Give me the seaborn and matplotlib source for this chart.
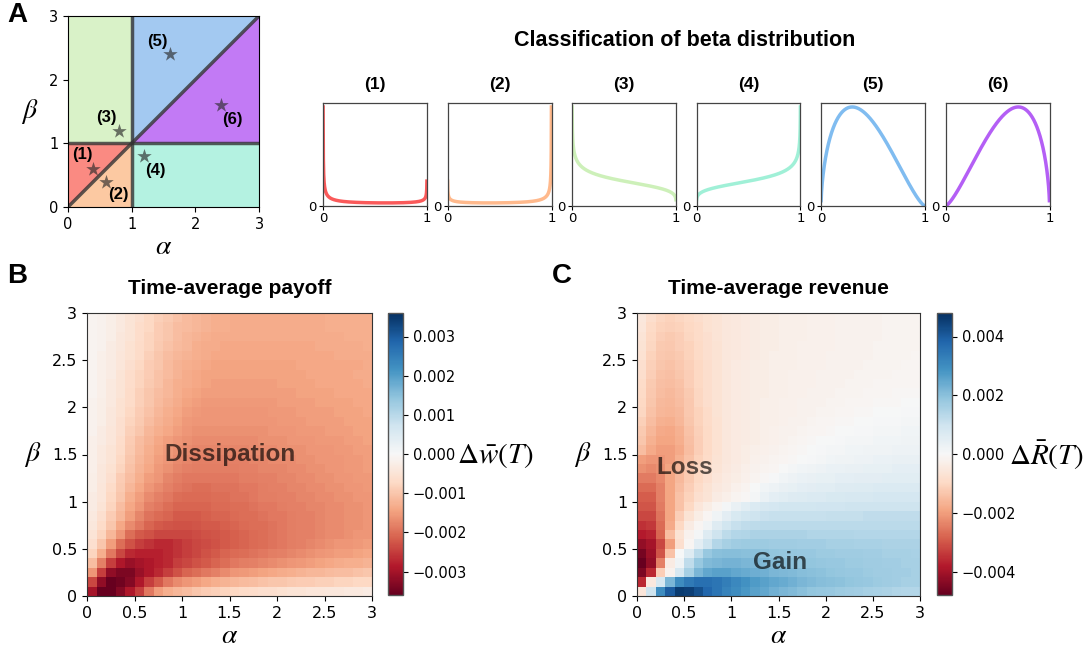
import numpy as np
import pandas as pd
import matplotlib
matplotlib.use('Agg')
import matplotlib.pyplot as plt
import seaborn as sns

plt.rcParams['font.family'] = ['DejaVu Sans']
plt.rcParams['mathtext.fontset'] = 'stix'
BOLD_FONT = ['Liberation Sans', 'DejaVu Sans']

# ---- panel A: example (alpha, beta) pairs ----
case_labels = ['(1)', '(2)', '(3)', '(4)', '(5)', '(6)']
case_alpha = [0.4, 0.6, 0.8, 1.2, 1.6, 2.4]
case_beta = [0.6, 0.4, 1.2, 0.8, 2.4, 1.6]
line_colors = ['#fa5a5a', '#ffb98c', '#cdf0b9', '#a0f0d7', '#80bcf0', '#b45ff5']
fill_colors = ['#fa8a82', '#fcc9a2', '#d9f2c8', '#b4f2e1', '#a3c9f1', '#c27af5']
label_offsets = [(-0.18, 0.22), (0.19, -0.21), (-0.19, 0.21), (0.18, -0.22), (-0.19, 0.2), (0.18, -0.23)]

# ---- panels B and C: grid centres ----
grid_alpha = [0.05, 0.15, 0.25, 0.35, 0.45, 0.55, 0.65, 0.75, 0.85, 0.95,
              1.05, 1.15, 1.25, 1.35, 1.45, 1.55, 1.65, 1.75, 1.85, 1.95,
              2.05, 2.15, 2.25, 2.35, 2.45, 2.55, 2.65, 2.75, 2.85, 2.95]
grid_beta = list(grid_alpha)
tick_labels = ['0', '0.5', '1', '1.5', '2', '2.5', '3']

# time-average payoff (x1e-4), rows from beta=0.05 (bottom) to beta=2.95 (top)
payoff_rows = [
    [-30, -36, -36, -33, -29, -25, -19, -15, -13, -12, -11, -10, -9, -8.5, -8, -7.5, -7, -6.5, -6, -6, -5.5, -5, -5, -4.5, -4.5, -4, -4, -3.5, -3.5, -3],
    [-24, -32, -36, -35, -33, -29, -25, -22, -19, -17, -16, -15, -14, -13, -12.5, -12, -11.5, -11, -10.5, -10, -10, -9.5, -9, -9, -8.5, -8.5, -8, -8, -7.5, -7.5],
    [-16, -25, -32, -34, -34, -31, -29, -27, -25, -23, -21, -20, -19, -18, -17, -16, -15.5, -15, -14.5, -14, -13.5, -13, -12.5, -12, -12, -11.5, -11, -11, -10.5, -10],
    [-11, -18, -25, -29, -31, -30, -29, -28, -27, -25, -24, -23, -22, -21, -20, -19, -18.5, -18, -17.5, -17, -16.5, -16, -15.5, -15, -14.5, -14, -13.5, -13, -13, -12.5],
    [-8, -13, -19, -24, -27, -28, -28, -28, -27, -26, -25, -24, -23, -22, -21, -20.5, -20, -19.5, -19, -18.5, -18, -17.5, -17, -16.5, -16, -15.5, -15, -15, -14.5, -14],
    [-6, -10, -15, -20, -23, -25, -26, -27, -27, -26, -25, -24, -23.5, -23, -22, -21.5, -21, -20.5, -20, -19.5, -19, -18.5, -18, -17.5, -17, -16.5, -16, -16, -15.5, -15],
    [-5, -8, -12, -16, -20, -22, -23, -24, -24, -24, -24, -23.5, -23, -22.5, -22, -21.5, -21, -20.5, -20, -19.5, -19, -18.5, -18, -18, -17.5, -17, -17, -16.5, -16, -16],
    [-4, -7, -10, -14, -17, -19, -21, -22, -22.5, -23, -23, -22.5, -22, -22, -21.5, -21, -20.5, -20, -20, -19.5, -19, -18.5, -18, -18, -17.5, -17, -17, -16.5, -16.5, -16],
    [-3.5, -6, -9, -12, -15, -17.5, -19.5, -20.5, -21, -22, -22, -22, -21.5, -21, -21, -20.5, -20, -20, -19.5, -19, -19, -18.5, -18, -18, -17.5, -17, -17, -16.5, -16.5, -16],
    [-3, -5, -8, -11, -14, -16, -18, -19, -20, -21, -21, -21, -21, -20.5, -20.5, -20, -20, -19.5, -19, -19, -18.5, -18, -18, -17.5, -17.5, -17, -17, -16.5, -16.5, -16],
    [-3, -4.5, -7.5, -10, -13, -15, -17, -18, -19, -20, -20.5, -20.5, -20.5, -20, -20, -19.5, -19.5, -19, -18.5, -18.5, -18, -18, -17.5, -17.5, -17, -17, -16.5, -16.5, -16, -16],
    [-2.5, -4.5, -7, -9.5, -12, -14, -16, -17, -18, -19, -19.5, -20, -20, -19.5, -19.5, -19.5, -19, -19, -18.5, -18, -18, -17.5, -17.5, -17, -17, -16.5, -16.5, -16, -16, -15.5],
    [-2.5, -4, -6, -9, -11, -13, -15, -16, -17.5, -18.5, -19, -19, -19, -19, -19, -19, -18.5, -18.5, -18, -18, -17.5, -17.5, -17, -17, -16.5, -16.5, -16, -16, -15.5, -15.5],
    [-2, -4, -5.5, -8, -10.5, -12.5, -14, -15.5, -16.5, -17.5, -18, -18.5, -18.5, -18.5, -18.5, -18.5, -18, -18, -17.5, -17.5, -17.5, -17, -17, -16.5, -16.5, -16, -16, -15.5, -15.5, -15],
    [-2, -3.5, -5, -7.5, -10, -12, -13.5, -15, -16, -17, -17.5, -18, -18, -18, -18, -18, -18, -17.5, -17.5, -17, -17, -17, -16.5, -16.5, -16, -16, -16, -15.5, -15.5, -15],
    [-2, -3.5, -5, -7, -9.5, -11.5, -13, -14.5, -15.5, -16.5, -17, -17.5, -17.5, -17.5, -17.5, -17.5, -17.5, -17, -17, -17, -16.5, -16.5, -16.5, -16, -16, -16, -15.5, -15.5, -15, -15],
    [-2, -3, -4.5, -6.5, -9, -11, -12.5, -14, -15, -16, -16.5, -17, -17, -17, -17, -17, -17, -17, -16.5, -16.5, -16.5, -16, -16, -16, -15.5, -15.5, -15.5, -15, -15, -14.5],
    [-1.5, -3, -4.5, -6, -8.5, -10, -12, -13, -14, -15, -16, -16.5, -16.5, -16.5, -16.5, -16.5, -16.5, -16.5, -16.5, -16, -16, -16, -15.5, -15.5, -15.5, -15, -15, -15, -14.5, -14.5],
    [-1.5, -2.5, -4, -6, -8, -9.5, -11, -12.5, -13.5, -14.5, -15.5, -16, -16, -16, -16, -16, -16, -16, -16, -16, -15.5, -15.5, -15.5, -15, -15, -15, -15, -14.5, -14.5, -14.5],
    [-1.5, -2.5, -4, -5.5, -7.5, -9, -10.5, -12, -13, -14, -15, -15.5, -16, -16, -16, -16, -16, -16, -16, -15.5, -15.5, -15.5, -15, -15, -15, -15, -14.5, -14.5, -14.5, -14],
    [-1.5, -2.5, -3.5, -5.5, -7, -8.5, -10, -11.5, -12.5, -13.5, -14.5, -15, -15.5, -15.5, -15.5, -15.5, -15.5, -15.5, -15.5, -15.5, -15, -15, -15, -15, -14.5, -14.5, -14.5, -14.5, -14, -14],
    [-1, -2, -3.5, -5, -7, -8.5, -10, -11, -12, -13, -14, -14.5, -15, -15, -15, -15, -15, -15, -15, -15, -15, -15, -14.5, -14.5, -14.5, -14.5, -14, -14, -14, -14],
    [-1, -2, -3.5, -5, -6.5, -8, -9.5, -10.5, -12, -13, -13.5, -14, -14.5, -15, -15, -15, -15, -15, -15, -15, -14.5, -14.5, -14.5, -14.5, -14, -14, -14, -14, -14, -13.5],
    [-1, -2, -3, -5, -6.5, -8, -9, -10.5, -11.5, -12.5, -13.5, -14, -14.5, -14.5, -14.5, -14.5, -14.5, -14.5, -14.5, -14.5, -14.5, -14.5, -14.5, -14, -14, -14, -14, -14, -13.5, -13.5],
    [-1, -2, -3, -4.5, -6, -7.5, -9, -10, -11.5, -12.5, -13, -13.5, -14, -14.5, -14.5, -14.5, -14.5, -14.5, -14.5, -14.5, -14.5, -14.5, -14, -14, -14, -14, -14, -14, -14, -13.5],
    [-1, -2, -3, -4.5, -5.5, -7, -8.5, -10, -11, -12, -12.5, -13, -13.5, -14, -14, -14, -14, -14, -14, -14, -14, -14, -14, -14, -14, -14, -13.5, -13.5, -13.5, -13.5],
    [-1, -1.5, -3, -4, -5.5, -7, -8, -9.5, -10.5, -11.5, -12, -13, -13.5, -13.5, -14, -14, -14, -14, -14, -14, -14, -14, -14, -14, -13.5, -13.5, -13.5, -13.5, -13.5, -13],
    [-1, -1.5, -2.5, -4, -5, -6.5, -8, -9, -10, -11, -12, -12.5, -13, -13.5, -13.5, -13.5, -13.5, -13.5, -13.5, -13.5, -13.5, -13.5, -13.5, -13.5, -13.5, -13.5, -13.5, -13, -13, -13],
    [-1, -1.5, -2.5, -3.5, -5, -6.5, -7.5, -9, -10, -11, -11.5, -12, -12.5, -13, -13, -13.5, -13.5, -13.5, -13.5, -13.5, -13.5, -13.5, -13.5, -13.5, -13.5, -13, -13, -13, -13, -13],
    [-1, -1.5, -2.5, -3.5, -5, -6, -7.5, -8.5, -9.5, -10.5, -11.5, -12, -12.5, -13, -13, -13.5, -13.5, -13.5, -13.5, -13.5, -13.5, -13.5, -13.5, -13.5, -13.5, -13, -13, -13, -13, -13],
]

# time-average revenue (x1e-4), rows from beta=0.05 (bottom) to beta=2.95 (top)
revenue_rows = [
    [-6, 10, 30, 40, 46, 45, 42, 38, 35, 32, 30, 28, 26, 25, 23, 22, 21, 20, 19, 18.5, 18, 17.5, 17, 16.5, 16, 15.5, 15, 14.5, 14, 14],
    [-36, -5, 8, 22, 30, 34, 36, 36, 35, 33, 31, 29, 27, 26, 25, 24, 23, 22, 21, 20.5, 20, 19.5, 19, 18.5, 18, 17.5, 17, 16.5, 16, 16],
    [-45, -36, -12, -2, 8, 16, 22, 25, 26, 26, 25, 24, 23.5, 23, 22, 21.5, 21, 20.5, 20, 19.5, 19, 18.5, 18, 18, 17.5, 17, 17, 16.5, 16.5, 16],
    [-48, -42, -24, -4, 2, 12, 18, 21, 22, 22.5, 22.5, 22, 21.5, 21, 20.5, 20, 19.5, 19, 19, 18.5, 18, 18, 17.5, 17.5, 17, 17, 16.5, 16.5, 16, 16],
    [-46, -41, -30, -14, 0, 6, 13, 18, 20, 20.5, 20.5, 20, 20, 19.5, 19, 18.5, 18.5, 18, 18, 17.5, 17.5, 17, 17, 17, 16.5, 16.5, 16, 16, 16, 15.5],
    [-42, -40, -32, -20, -8, -1, 5, 10, 14, 16, 17, 17.5, 17.5, 17.5, 17, 17, 17, 16.5, 16.5, 16.5, 16, 16, 16, 15.5, 15.5, 15.5, 15, 15, 15, 15],
    [-38, -37, -28, -15, -7, -2, 1, 6, 10, 12.5, 14, 14.5, 15, 15, 15, 15, 15, 15, 14.5, 14.5, 14.5, 14.5, 14.5, 14, 14, 14, 14, 14, 14, 14],
    [-35, -34, -27, -18, -10, -4, -1, 2, 6, 9, 11, 12, 12.5, 13, 13, 13, 13, 13, 13, 13, 13, 13, 13, 13, 13, 13, 13, 13, 13, 13],
    [-32, -32, -26, -19, -12, -7, -3.5, -1, 2, 5, 7.5, 9, 10, 10.5, 11, 11, 11, 11, 11, 11, 11.5, 11.5, 11.5, 11.5, 12, 12, 12, 12, 12, 12],
    [-30, -30, -25, -19, -14, -10, -6, -3.5, -1.5, 1, 3.5, 5.5, 7, 8, 8.5, 9, 9, 9, 9, 9.5, 9.5, 9.5, 10, 10, 10, 10, 10, 10, 10, 10],
    [-29, -29, -24, -19, -14, -11, -8, -6.5, -4, -3, -1.5, -0.5, 1, 3, 4.5, 5.5, 6, 6.5, 7, 7, 7.5, 7.5, 8, 8, 8, 8.5, 8.5, 8.5, 8.5, 8.5],
    [-27, -27, -24, -19, -15, -12, -9, -7, -5, -4, -2.5, -1.5, 0, 1.5, 2.5, 3.5, 4, 4.5, 5, 5.5, 5.5, 6, 6, 6.5, 6.5, 7, 7, 7, 7, 7],
    [-25, -25, -23, -19, -15.5, -12.5, -10, -8, -6, -4.5, -3.5, -2.5, -1.5, -0.5, 0.5, 1.5, 2.5, 3, 3.5, 4, 4, 4.5, 4.5, 5, 5, 5, 5.5, 5.5, 5.5, 5.5],
    [-22, -23, -22, -19, -16, -13, -10.5, -8.5, -6.5, -5, -4, -3, -2, -1.5, -1, 0, 1, 1.5, 2, 2.5, 3, 3, 3.5, 3.5, 4, 4, 4, 4.5, 4.5, 4.5],
    [-20, -21, -21, -20, -17, -14, -11, -9, -7, -5.5, -4.5, -3.5, -2.5, -2, -1.5, -1, -0.5, 0, 0.5, 1, 1.5, 2, 2, 2.5, 2.5, 3, 3, 3.5, 3.5, 3.5],
    [-15, -18, -20, -20, -18, -15, -12, -9.5, -7.5, -5.5, -4.5, -3.5, -3, -2.5, -2, -1.5, -1, -0.5, 0, 0.5, 1, 1, 1.5, 1.5, 2, 2, 2, 2.5, 2.5, 2.5],
    [-13.5, -17, -19, -19, -17.5, -14.5, -12, -9.5, -7.5, -5.5, -4.5, -4, -3.5, -3, -2.5, -2, -1.5, -1, -0.5, 0, 0, 0.5, 1, 1, 1, 1.5, 1.5, 1.5, 2, 2],
    [-12.5, -16, -18, -18.5, -17, -14, -11.5, -9.5, -7.5, -5.5, -4.5, -4, -3.5, -3, -2.5, -2, -2, -1.5, -1, -1, -0.5, 0, 0, 0.5, 0.5, 1, 1, 1, 1.5, 1.5],
    [-11.5, -15, -17, -17.5, -16, -13.5, -11, -9, -7.5, -5.5, -4.5, -4, -3.5, -3, -3, -2.5, -2, -2, -1.5, -1, -1, -0.5, -0.5, 0, 0, 0.5, 0.5, 0.5, 1, 1],
    [-10.5, -14, -16, -16.5, -15.5, -13, -11, -9, -7, -5.5, -4.5, -4, -3.5, -3, -3, -2.5, -2.5, -2, -2, -1.5, -1.5, -1, -1, -0.5, -0.5, 0, 0, 0, 0.5, 0.5],
    [-10, -13.5, -15.5, -16, -15, -13, -10.5, -8.5, -7, -5.5, -4.5, -4, -3.5, -3, -3, -2.5, -2.5, -2, -2, -2, -1.5, -1.5, -1, -1, -1, -0.5, -0.5, -0.5, 0, 0],
    [-9.5, -13, -15, -15.5, -14.5, -12.5, -10.5, -8.5, -7, -5.5, -4.5, -4, -3.5, -3.5, -3, -3, -2.5, -2.5, -2, -2, -2, -1.5, -1.5, -1.5, -1, -1, -1, -0.5, -0.5, -0.5],
    [-9, -12.5, -14.5, -15, -14, -12, -10, -8.5, -7, -5.5, -4.5, -4, -3.5, -3.5, -3, -3, -2.5, -2.5, -2.5, -2, -2, -2, -1.5, -1.5, -1.5, -1, -1, -1, -1, -1],
    [-8.5, -12, -14, -14.5, -13.5, -12, -10, -8.5, -7, -5.5, -4.5, -4, -3.5, -3.5, -3, -3, -2.5, -2.5, -2.5, -2, -2, -2, -2, -1.5, -1.5, -1.5, -1.5, -1, -1, -1],
    [-8, -11.5, -13.5, -14, -13, -11.5, -10, -8.5, -7, -5.5, -4.5, -4, -3.5, -3.5, -3, -3, -3, -2.5, -2.5, -2.5, -2, -2, -2, -2, -1.5, -1.5, -1.5, -1.5, -1, -1],
    [-7.5, -11, -13, -13.5, -12.5, -11, -9.5, -8, -7, -5.5, -5, -4.5, -4, -3.5, -3, -3, -3, -2.5, -2.5, -2.5, -2, -2, -2, -2, -2, -1.5, -1.5, -1.5, -1.5, -1],
    [-7, -10.5, -12.5, -13, -12, -11, -9.5, -8, -7, -5.5, -5, -4.5, -4, -3.5, -3.5, -3, -3, -2.5, -2.5, -2.5, -2.5, -2, -2, -2, -2, -1.5, -1.5, -1.5, -1.5, -1.5],
    [-6.5, -10, -12, -12.5, -12, -10.5, -9, -8, -6.5, -5.5, -5, -4.5, -4, -3.5, -3.5, -3, -3, -3, -2.5, -2.5, -2.5, -2, -2, -2, -2, -2, -1.5, -1.5, -1.5, -1.5],
    [-6, -9.5, -11, -11.5, -11, -10, -9, -7.5, -6.5, -5.5, -5, -4.5, -4, -3.5, -3.5, -3, -3, -3, -2.5, -2.5, -2.5, -2, -2, -2, -2, -2, -1.5, -1.5, -1.5, -1.5],
    [-5.5, -8.5, -10.5, -11, -10.5, -9.5, -8.5, -7.5, -6.5, -5.5, -5, -4.5, -4, -3.5, -3.5, -3, -3, -3, -2.5, -2.5, -2.5, -2, -2, -2, -2, -2, -1.5, -1.5, -1.5, -1.5],
]

W, H = 1087, 649


def px(left, top, right, bottom):
    return [left / W, 1 - bottom / H, (right - left) / W, (bottom - top) / H]


fig = plt.figure(figsize=(W / 100, H / 100), dpi=100)

# ---------------- panel A: parameter plane ----------------
axA = fig.add_axes(px(68, 16, 259, 207))
regions = [
    [(0, 0), (1, 1), (0, 1)],
    [(0, 0), (1, 0), (1, 1)],
    [(0, 1), (1, 1), (1, 3), (0, 3)],
    [(1, 0), (3, 0), (3, 1), (1, 1)],
    [(1, 1), (3, 3), (1, 3)],
    [(1, 1), (3, 1), (3, 3)],
]
for poly, c in zip(regions, fill_colors):
    xs, ys = zip(*poly)
    axA.fill(xs, ys, color=c, lw=0, zorder=1)
for xs, ys in [([1, 1], [0, 3]), ([0, 3], [1, 1]), ([0, 3], [0, 3])]:
    axA.plot(xs, ys, color='#333333', lw=2.5, alpha=0.8, zorder=2)
sns.scatterplot(x=case_alpha, y=case_beta, ax=axA, marker='*', s=120,
                color='#2a2a2a', alpha=0.65, linewidth=0, zorder=3)
for a, b, lab, (dx, dy) in zip(case_alpha, case_beta, case_labels, label_offsets):
    axA.text(a + dx, b + dy, lab, ha='center', va='center', fontsize=12,
             fontweight='bold', family=BOLD_FONT, zorder=4)
axA.set_xlim(0, 3)
axA.set_ylim(0, 3)
axA.set_xticks([0, 1, 2, 3])
axA.set_yticks([0, 1, 2, 3])
axA.tick_params(labelsize=10.5, length=3.5)
axA.set_xlabel(r'$\alpha$', fontsize=20, labelpad=0)
axA.set_ylabel(r'$\beta$', fontsize=20, rotation=0, labelpad=14, va='center')

# ---------------- panel A: beta density shapes ----------------
fig.text(685 / W, 1 - 40 / H, 'Classification of beta distribution', ha='center',
         va='center', fontsize=15.5, fontweight='bold', family=BOLD_FONT)
small_lefts = [323, 447.5, 572, 696.5, 821, 945.5]
xs = np.linspace(0.001, 0.999, 1200)
for left, a, b, lab, c in zip(small_lefts, case_alpha, case_beta, case_labels, line_colors):
    ax = fig.add_axes(px(left, 103, left + 104, 206))
    dens = xs ** (a - 1) * (1 - xs) ** (b - 1)
    sns.lineplot(x=xs, y=dens, ax=ax, color=c, lw=2.5, sort=False)
    ax.set_xlim(0, 1)
    ax.set_ylim(0, dens.max() * 1.04)
    ax.set_xticks([0, 1])
    ax.set_yticks([0])
    ax.tick_params(labelsize=9.5, length=3, pad=1.5)
    for s in ax.spines.values():
        s.set_color('#444444')
        s.set_linewidth(0.9)
    ax.set_title(lab, fontsize=12.5, fontweight='bold', family=BOLD_FONT, pad=10)


# ---------------- panels B and C: heatmaps ----------------
def draw_heat(rows, vmax, cticks, rect, crect, title, cbar_label, label_x, notes):
    df = pd.DataFrame(np.array(rows)[::-1] * 1e-4, index=grid_beta[::-1], columns=grid_alpha)
    ax = fig.add_axes(rect)
    cax = fig.add_axes(crect)
    sns.heatmap(df, ax=ax, cbar_ax=cax, cmap='RdBu', vmin=-vmax, vmax=vmax,
                xticklabels=False, yticklabels=False, cbar_kws={'ticks': cticks})
    ax.set_xticks(np.arange(0, 31, 5))
    ax.set_xticklabels(tick_labels)
    ax.set_yticks(np.arange(30, -1, -5))
    ax.set_yticklabels(tick_labels)
    ax.tick_params(labelsize=11.5, length=3.5, rotation=0, left=True, bottom=True)
    for s in ax.spines.values():
        s.set_visible(True)
        s.set_linewidth(0.8)
        s.set_color('#333333')
    ax.set_xlabel(r'$\alpha$', fontsize=20, labelpad=0)
    ax.set_ylabel(r'$\beta$', fontsize=20, rotation=0, labelpad=14, va='center')
    ax.set_title(title, fontsize=15, fontweight='bold', family=BOLD_FONT, pad=14)
    cbar = ax.collections[0].colorbar
    cbar.outline.set_linewidth(1)
    cbar.outline.set_edgecolor('#555555')
    cax.tick_params(labelsize=10.5, length=3.5)
    fig.text(label_x / W, 1 - 455 / H, cbar_label, fontsize=21, ha='left', va='center')
    for txt, xa, yb in notes:
        ax.text(xa * 10, 30 - yb * 10, txt, ha='center', va='center', fontsize=17.5,
                fontweight='bold', family=BOLD_FONT, color='black', alpha=0.65)
    return ax


draw_heat(payoff_rows, 0.0036, [-0.003, -0.002, -0.001, 0.0, 0.001, 0.002, 0.003],
          px(87, 313, 372, 596), px(388, 313, 403, 595), 'Time-average payoff',
          r'$\Delta\bar{w}(T)$', 457, [('Dissipation', 1.5, 1.5)])
draw_heat(revenue_rows, 0.0048, [-0.004, -0.002, 0.0, 0.002, 0.004],
          px(637, 313, 920, 596), px(937, 313, 952, 595), 'Time-average revenue',
          r'$\Delta\bar{R}(T)$', 1009, [('Loss', 0.51, 1.36), ('Gain', 1.52, 0.35)])

for letter, x, y in [('A', 17, 15), ('B', 17, 276), ('C', 562, 276)]:
    fig.text(x / W, 1 - y / H, letter, fontsize=20, fontweight='bold', family=BOLD_FONT,
             ha='center', va='center')

fig.savefig('out.png', dpi=100)
